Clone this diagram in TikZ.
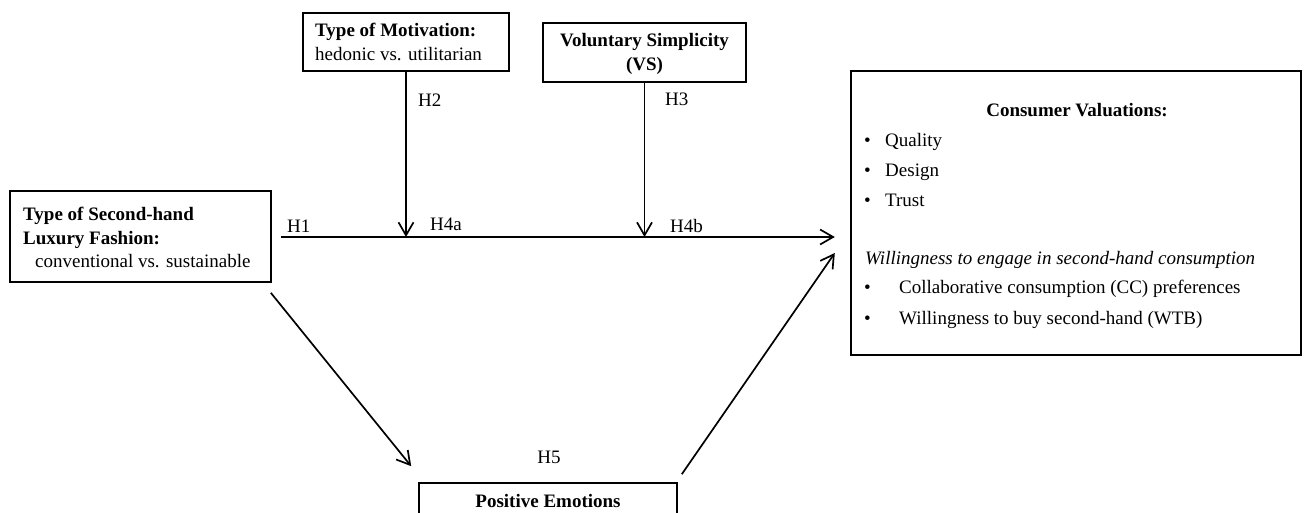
\documentclass[tikz,border=0pt]{standalone}
\usepackage{fontspec}
\setmainfont{Liberation Serif}
\usetikzlibrary{arrows.meta,calc}
\begin{document}
\begin{tikzpicture}[x=1pt,y=-1pt,
  box/.style={draw,line width=1.6pt,inner sep=0pt,rectangle},
  txt/.style={inner sep=0pt,anchor=base west,font=\fontsize{19}{23}\selectfont},
  ctxt/.style={inner sep=0pt,anchor=base,font=\fontsize{19}{23}\selectfont},
  arr/.style={line width=1.7pt,-{Straight Barb[length=13pt,width=15pt]}},
  plain/.style={line width=1.7pt}]
\useasboundingbox (0,0) rectangle (1305,513);
\fill[white] (0,0) rectangle (1305,513);
% boxes
\node[box,minimum width=261pt,minimum height=91pt] (lt) at (140.5,236.5) {};
\node[box,minimum width=206pt,minimum height=58pt] (mot) at (406,42) {};
\node[box,minimum width=203pt,minimum height=59pt] (vs) at (644.5,52.5) {};
\node[box,line width=2.4pt,minimum width=450pt,minimum height=284pt] (cv) at (1076,213) {};
\node[box,minimum width=258pt,minimum height=62pt] (pe) at (548,514) {};
% texts of left box
\node[txt] (lt1) at (23,220) {\bfseries Type of Second-hand};
\node[txt] (lt2) at (23,244) {\bfseries Luxury Fashion:};
\node[txt] (lt3) at (35,267) {conventional vs. sustainable};
% motivation
\node[txt] (mot1) at (315,37) {\bfseries Type of Motivation:};
\node[txt] (mot2) at (315,61) {hedonic vs. utilitarian};
% VS
\node[ctxt] (vs1) at (644.5,47) {\bfseries Voluntary Simplicity};
\node[ctxt] (vs2) at (644.5,71) {\bfseries (VS)};
% consumer valuations
\node[ctxt] (cv0) at (1077,117) {\bfseries Consumer Valuations:};
\node[txt] (b1) at (864,147) {\textbullet};
\node[txt] (cv1) at (885,147) {Quality};
\node[txt] (b2) at (864,177) {\textbullet};
\node[txt] (cv2) at (885,177) {Design};
\node[txt] (b3) at (864,206) {\textbullet};
\node[txt] (cv3) at (885,206) {Trust};
\node[txt] (cv4) at (865,264) {\itshape Willingness to engage in second-hand consumption};
\node[txt] (b4) at (864,293) {\textbullet};
\node[txt] (cv5) at (899,293) {Collaborative consumption (CC) preferences};
\node[txt] (b5) at (864,324) {\textbullet};
\node[txt] (cv6) at (899,324) {Willingness to buy second-hand (WTB)};
% positive emotions
\node[ctxt] (pe1) at (548,507) {\bfseries Positive Emotions};
% labels
\node[txt] (h1) at (287,232) {H1};
\node[txt] (h2) at (418,107) {H2};
\node[txt] (h3) at (665,106) {H3};
\node[txt] (h4a) at (430,230) {H4a};
\node[txt] (h4b) at (670,232) {H4b};
\node[ctxt] (h5) at (549,463) {H5};
% connector coordinates
\coordinate (hs) at ($(lt.east)+(9,0.5)$);
\coordinate (he) at ($(cv.west)+(-15,24)$);
\coordinate (ma) at (mot.south |- hs);
\coordinate (va) at (vs.south |- hs);
\coordinate (d1s) at ($(lt.south east)+(-1,10)$);
\coordinate (d1e) at ($(pe.north west)+(-7,-16)$);
\coordinate (d2s) at ($(pe.north east)+(4,-8)$);
\coordinate (d2e) at ($(cv.west)+(-15,40)$);
% connectors
\draw[arr] (hs) -- (he);
\draw[arr] (mot.south) -- (ma);
\draw[arr] (vs.south) -- (va);
\draw[arr] (d1s) -- (d1e);
\draw[arr] (d2s) -- (d2e);
\end{tikzpicture}
\end{document}
